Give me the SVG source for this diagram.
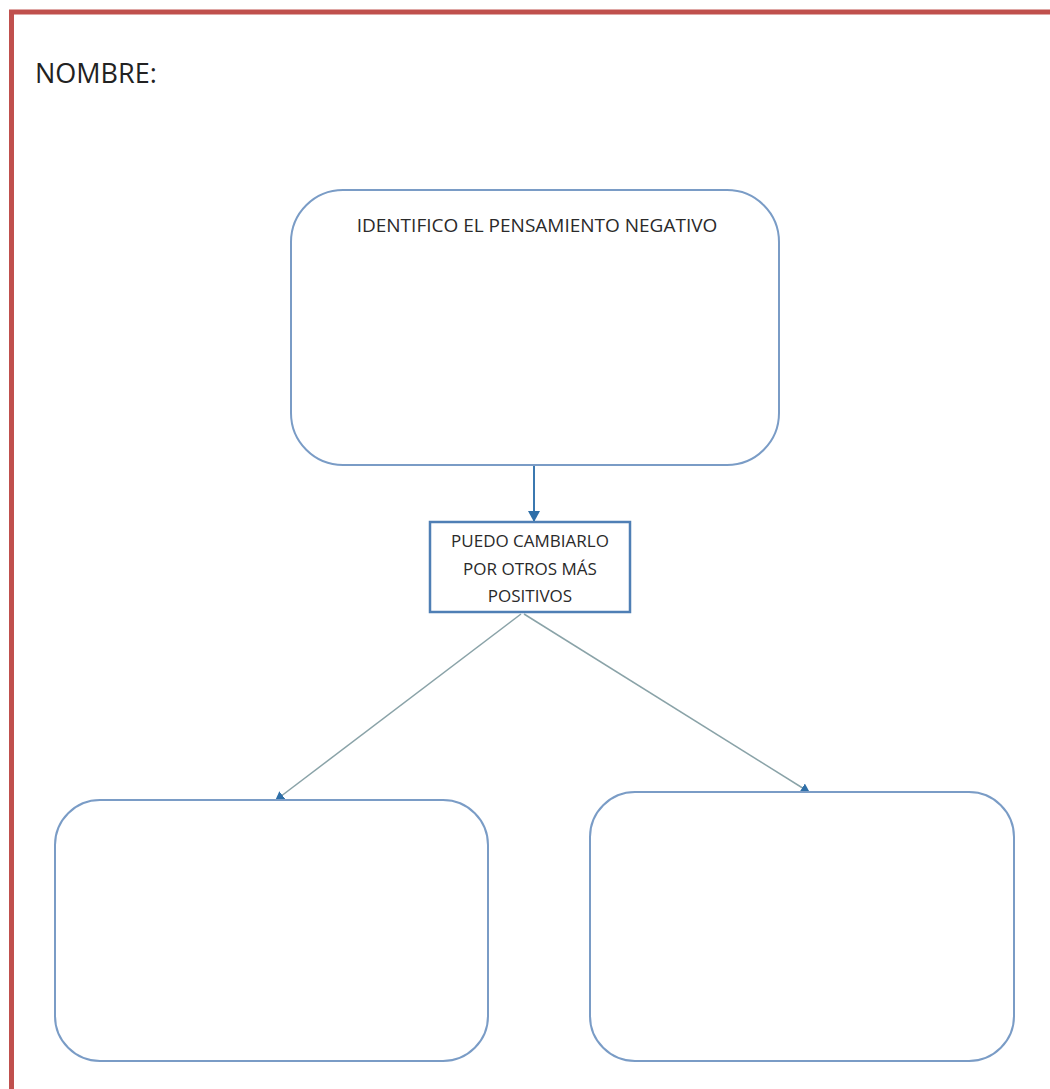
<svg xmlns="http://www.w3.org/2000/svg" width="1050" height="1089" viewBox="0 0 1050 1089">
<style>
.box{fill:#ffffff;stroke:#7a9cc6;stroke-width:2}
.lbl{font-family:"Open Sans","Liberation Sans",sans-serif;fill:#2a2a2a;text-anchor:middle}
.con{stroke:#8aa3a8;stroke-width:1.5;fill:none}
</style>
<defs>
<marker id="ah" markerWidth="10" markerHeight="10" refX="8" refY="5" orient="auto" markerUnits="userSpaceOnUse"><path d="M0,0 L9,5 L0,10 Z" fill="#2f6fa8"/></marker>
<marker id="ah2" markerWidth="12" markerHeight="12" refX="10" refY="6" orient="auto" markerUnits="userSpaceOnUse"><path d="M0,0 L11,6 L0,12 Z" fill="#2f6fa8"/></marker>
</defs>
<rect width="1050" height="1089" fill="#ffffff"/>
<path d="M11.5,1089 V12 H1050" fill="none" stroke="#c0504d" stroke-width="5"/>
<text x="35" y="83" font-family="'Open Sans','Liberation Sans',sans-serif" font-size="27" fill="#222">NOMBRE:</text>
<g id="connectors">
<line class="con" x1="534" y1="465" x2="534" y2="521" style="stroke:#3b78b0;stroke-width:2" marker-end="url(#ah2)"/>
<line class="con" x1="521" y1="614" x2="276" y2="800" marker-end="url(#ah)"/>
<line class="con" x1="524" y1="614" x2="809" y2="792" marker-end="url(#ah)"/>
</g>
<g id="n1"><rect class="box" x="291" y="190" width="488" height="275" rx="52"/>
<text class="lbl" x="537" y="232" font-size="19">IDENTIFICO EL PENSAMIENTO NEGATIVO</text></g>
<g id="n2"><rect class="box" x="430" y="522" width="200" height="90" style="stroke:#4f7fb5;stroke-width:2.5"/>
<text class="lbl" x="530" y="547" font-size="17">PUEDO CAMBIARLO</text>
<text class="lbl" x="530" y="575" font-size="17">POR OTROS MÁS</text>
<text class="lbl" x="530" y="602" font-size="17">POSITIVOS</text></g>
<g id="n3"><rect class="box" x="55" y="800" width="433" height="261" rx="45"/></g>
<g id="n4"><rect class="box" x="590" y="792" width="424" height="269" rx="45"/></g>
</svg>
